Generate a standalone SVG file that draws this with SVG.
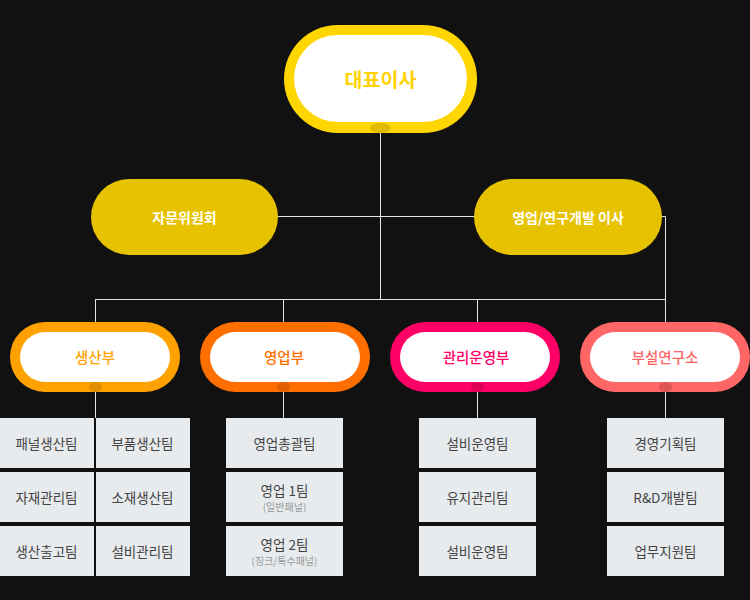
<svg xmlns="http://www.w3.org/2000/svg" width="750" height="600" viewBox="0 0 750 600">
<style>
text{font-family:"Noto Sans CJK KR","Noto Sans",sans-serif;text-anchor:middle;dominant-baseline:central}
.ln{stroke:#e6e6e6;stroke-width:1;fill:none}
.box{fill:#e8ebee}
.bt{font-size:13.5px;fill:#444}
.st{font-size:10px;fill:#999}
.mid{fill:#e6c200}
.mt{font-size:14px;font-weight:bold;fill:#fff}
.dt{font-size:14.5px;font-weight:500}
</style>
<rect width="750" height="600" fill="#111111"/>
<g id="connectors">
<path class="ln" d="M380.5 128V299.5M278 216.5H665.5V299.5M95.5 299.5H665.5"/>
<path class="ln" d="M95.5 299V322M283.5 299V322M477.5 299V322M665.5 299V322"/>
<path class="ln" d="M95.5 390V418M283.5 390V418M477.5 390V418M665.5 390V418"/>
</g>
<g id="ceo">
<rect x="284" y="25" width="193" height="108" rx="54" fill="#ffd600"/>
<rect x="294" y="35" width="173" height="87" rx="43.5" fill="#fff"/>
<ellipse cx="380.5" cy="128" rx="10.5" ry="5" fill="#e0bb00"/>
<text x="380.5" y="78" font-size="19.5" font-weight="bold" fill="#ffd200">대표이사</text>
</g>
<g id="advisory">
<rect class="mid" x="91" y="179" width="187" height="76" rx="38"/>
<text class="mt" x="184.5" y="217">자문위원회</text>
</g>
<g id="director">
<rect class="mid" x="474" y="179" width="188" height="76" rx="38"/>
<text class="mt" x="568" y="217">영업/연구개발 이사</text>
</g>
<g id="production">
<rect x="10" y="322" width="170" height="70" rx="35" fill="#ffa200"/>
<rect x="20" y="332" width="150" height="50" rx="25" fill="#fff"/>
<ellipse cx="95.5" cy="387" rx="6.5" ry="5" fill="#e08e00"/>
<text class="dt" x="95" y="356.5" fill="#ffa200">생산부</text>
</g>
<g id="sales">
<rect x="200" y="322" width="170" height="70" rx="35" fill="#ff6f00"/>
<rect x="210" y="332" width="150" height="50" rx="25" fill="#fff"/>
<ellipse cx="283.5" cy="387" rx="6.5" ry="5" fill="#e06000"/>
<text class="dt" x="284" y="356.5" fill="#ff6f00">영업부</text>
</g>
<g id="management">
<rect x="390" y="322" width="170" height="70" rx="35" fill="#ff0066"/>
<rect x="400" y="332" width="150" height="50" rx="25" fill="#fff"/>
<ellipse cx="477.5" cy="387" rx="6.5" ry="5" fill="#dd0055"/>
<text class="dt" x="476" y="356.5" fill="#ff0066">관리운영부</text>
</g>
<g id="lab">
<rect x="580" y="322" width="170" height="70" rx="35" fill="#ff6666"/>
<rect x="590" y="332" width="150" height="50" rx="25" fill="#fff"/>
<ellipse cx="665.5" cy="387" rx="6.5" ry="5" fill="#dd5555"/>
<text class="dt" x="665" y="356.5" fill="#ff6666">부설연구소</text>
</g>
<g id="prod-teams">
<rect class="box" x="0" y="418" width="94" height="50"/><text class="bt" x="46.5" y="442.5">패널생산팀</text>
<rect class="box" x="96" y="418" width="94" height="50"/><text class="bt" x="142.5" y="442.5">부품생산팀</text>
<rect class="box" x="0" y="472" width="94" height="50"/><text class="bt" x="46.5" y="496.5">자재관리팀</text>
<rect class="box" x="96" y="472" width="94" height="50"/><text class="bt" x="142.5" y="496.5">소재생산팀</text>
<rect class="box" x="0" y="526" width="94" height="50"/><text class="bt" x="46.5" y="550.5">생산출고팀</text>
<rect class="box" x="96" y="526" width="94" height="50"/><text class="bt" x="142.5" y="550.5">설비관리팀</text>
</g>
<g id="sales-teams">
<rect class="box" x="226" y="418" width="117" height="50"/><text class="bt" x="284.5" y="442.5">영업총괄팀</text>
<rect class="box" x="226" y="472" width="117" height="50"/><text class="bt" x="284.5" y="490">영업 1팀</text><text class="st" x="284.5" y="506.5">(일반패널)</text>
<rect class="box" x="226" y="526" width="117" height="50"/><text class="bt" x="284.5" y="544">영업 2팀</text><text class="st" x="284.5" y="560.5">(징크/특수패널)</text>
</g>
<g id="mgmt-teams">
<rect class="box" x="419" y="418" width="117" height="50"/><text class="bt" x="477.5" y="442.5">설비운영팀</text>
<rect class="box" x="419" y="472" width="117" height="50"/><text class="bt" x="477.5" y="496.5">유지관리팀</text>
<rect class="box" x="419" y="526" width="117" height="50"/><text class="bt" x="477.5" y="550.5">설비운영팀</text>
</g>
<g id="lab-teams">
<rect class="box" x="607" y="418" width="117" height="50"/><text class="bt" x="665.5" y="442.5">경영기획팀</text>
<rect class="box" x="607" y="472" width="117" height="50"/><text class="bt" x="665.5" y="496.5">R&amp;D개발팀</text>
<rect class="box" x="607" y="526" width="117" height="50"/><text class="bt" x="665.5" y="550.5">업무지원팀</text>
</g>
</svg>
